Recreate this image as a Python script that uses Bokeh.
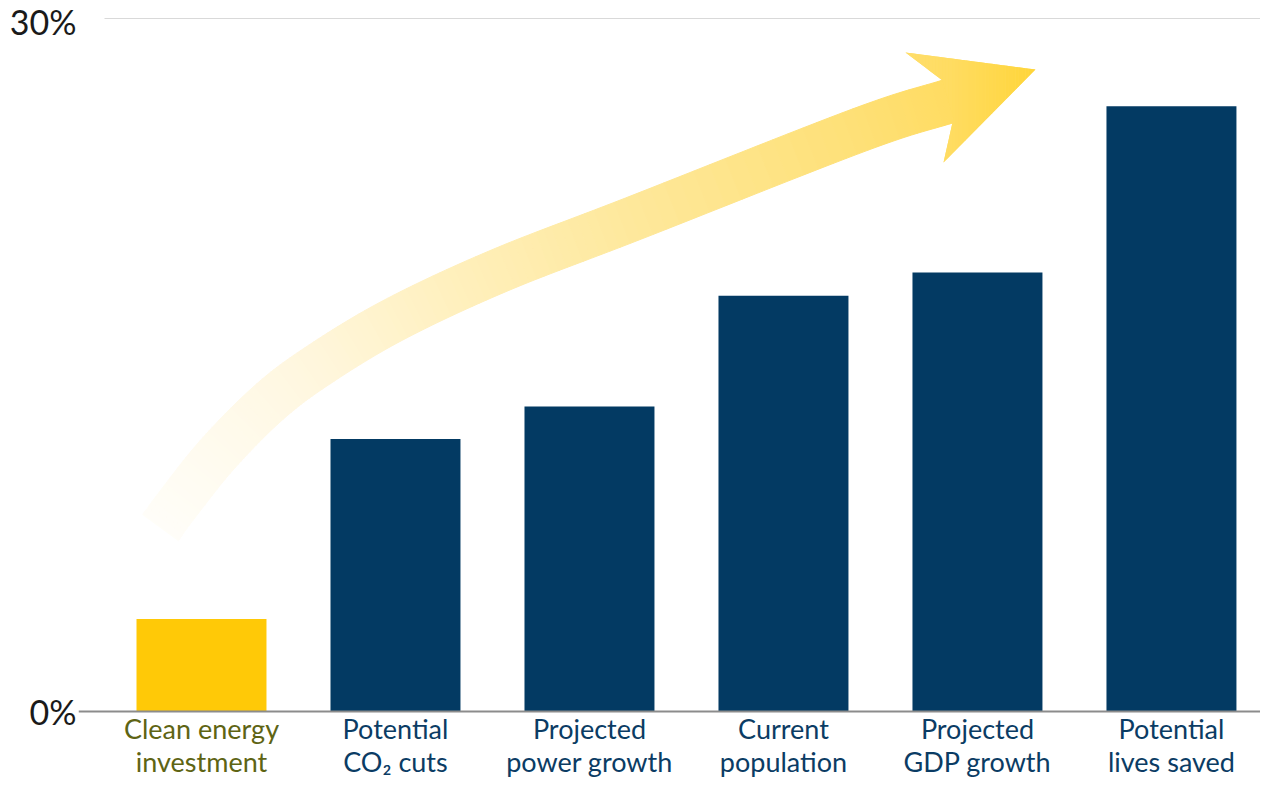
import numpy as np
from bokeh.plotting import figure
from bokeh.models import FixedTicker, PrintfTickFormatter, Range1d, Span
from bokeh.core.properties import value
from bokeh.embed import file_html
from bokeh.resources import INLINE

# ---------------- data ----------------
categories = ["Clean energy\ninvestment", "Potential\nCO\u2082 cuts", "Projected\npower growth",
              "Current\npopulation", "Projected\nGDP growth", "Potential\nlives saved"]
values = [4.0, 11.8, 13.2, 18.0, 19.0, 26.2]
bar_colors = ["#FFC907", "#033A63", "#033A63", "#033A63", "#033A63", "#033A63"]
label_colors = ["#5E6414", "#0B3C64", "#0B3C64", "#0B3C64", "#0B3C64", "#0B3C64"]
y_ticks = [0, 30]

# ---------------- layout ----------------
W, H = 1260, 780
BORDER_L = 78
X0, X1 = -0.634, 5.459
Y0, Y1 = -2.987, 30.779
PXX = (W - BORDER_L) / (X1 - X0)
PXY = H / (Y1 - Y0)

p = figure(width=W, height=H, output_backend="svg", toolbar_location=None,
           x_range=Range1d(X0, X1), y_range=Range1d(Y0, Y1),
           x_axis_location=None, min_border_left=BORDER_L, min_border_right=0,
           min_border_top=0, min_border_bottom=0)
p.outline_line_color = None
p.xgrid.visible = False
p.ygrid.visible = False
p.background_fill_color = "white"
p.border_fill_color = "white"

ax = p.yaxis[0]
ax.ticker = FixedTicker(ticks=y_ticks)
ax.formatter = PrintfTickFormatter(format="%d%%")
ax.axis_line_color = None
ax.major_tick_line_color = None
ax.minor_tick_line_color = None
ax.major_tick_out = 0
ax.major_tick_in = 0
ax.major_label_standoff = 2
ax.major_label_text_font = "Lato"
ax.major_label_text_font_size = "34px"
ax.major_label_text_color = "#1a1a1a"

idx = list(range(len(categories)))

# top gridline at 30%
p.segment(x0=[-0.5], y0=[y_ticks[-1]], x1=[X1], y1=[y_ticks[-1]], line_color="#d9d9d9", line_width=1)

# bars
p.vbar(x=idx, top=values, bottom=0, width=0.67, fill_color=bar_colors, line_color=None)

# baseline
p.add_layout(Span(location=0, dimension="width", line_color="#8c8c8c", line_width=2))

# category labels
p.text(x=idx, y=[-0.03] * len(idx), text=categories, text_align="center", text_baseline="top",
       text_font=value("Lato"), text_font_size="27px", text_color=label_colors,
       text_line_height=1.0)

# ---------------- decorative gradient arrow ----------------
center = [(-0.211, 7.965), (-0.124, 8.961), (0.077, 11.082), (0.330, 13.247), (0.577, 14.848),
          (0.985, 16.926), (1.536, 19.091), (2.227, 21.342), (3.397, 25.195), (3.875, 26.48)]
head = [(3.820, 27.316), (3.629, 28.528), (4.299, 27.792), (3.825, 23.766), (3.876, 25.671)]
grad_x = [-0.263, 0.510, 1.284, 2.227, 3.397, 3.861, 4.304]
grad_rgb = [(255, 254, 250), (255, 247, 224), (255, 240, 190), (254, 232, 155),
            (254, 224, 118), (255, 220, 98), (255, 213, 56)]


def to_px(pt):
    return np.array([pt[0] * PXX, pt[1] * PXY])


def to_data(v):
    return (v[0] / PXX, v[1] / PXY)


def color_at(x):
    r = np.interp(x, grad_x, [c[0] for c in grad_rgb])
    g = np.interp(x, grad_x, [c[1] for c in grad_rgb])
    b = np.interp(x, grad_x, [c[2] for c in grad_rgb])
    return "#%02x%02x%02x" % (int(round(r)), int(round(g)), int(round(b)))


P = [to_px(c) for c in center]
Pext = [2 * P[0] - P[1]] + P + [2 * P[-1] - P[-2]]
samples = []
for i in range(1, len(Pext) - 2):
    p0, p1, p2, p3 = Pext[i - 1], Pext[i], Pext[i + 1], Pext[i + 2]
    for t in np.linspace(0, 1, 16, endpoint=False):
        t2, t3 = t * t, t * t * t
        pt = 0.5 * ((2 * p1) + (-p0 + p2) * t + (2 * p0 - 5 * p1 + 4 * p2 - p3) * t2
                    + (-p0 + 3 * p1 - 3 * p2 + p3) * t3)
        samples.append(pt)
samples.append(P[-1])
last_dir = P[-1] - P[-2]
last_dir = last_dir / np.linalg.norm(last_dir)
samples.append(P[-1] + last_dir * 6.0)
samples = np.array(samples)

half = 22.0
tang = np.gradient(samples, axis=0)
tang /= np.linalg.norm(tang, axis=1)[:, None]
norm = np.stack([-tang[:, 1], tang[:, 0]], axis=1)
upper = samples + norm * half
lower = samples - norm * half

xs, ys, cols = [], [], []
for i in range(len(samples) - 1):
    quad = [upper[i], upper[i + 1], lower[i + 1], lower[i]]
    d = [to_data(q) for q in quad]
    xs.append([q[0] for q in d])
    ys.append([q[1] for q in d])
    cols.append(color_at(np.mean([q[0] for q in d])))
p.patches(xs=xs, ys=ys, fill_color=cols, line_color=cols, line_width=1)


def clip_half(poly, xv, keep_greater):
    out = []
    n = len(poly)
    for i in range(n):
        a, b = poly[i], poly[(i + 1) % n]
        ina = a[0] >= xv if keep_greater else a[0] <= xv
        inb = b[0] >= xv if keep_greater else b[0] <= xv
        if ina:
            out.append(a)
        if ina != inb:
            t = (xv - a[0]) / (b[0] - a[0])
            out.append((xv, a[1] + t * (b[1] - a[1])))
    return out


hx = [h[0] for h in head]
p.patch(x=hx, y=[h[1] for h in head], fill_color=color_at(np.mean(hx)), line_color=None)
edges = np.linspace(min(hx), max(hx), 40)
hxs, hys, hcols = [], [], []
for a, b in zip(edges[:-1], edges[1:]):
    poly = clip_half(head, a, True)
    if len(poly) < 3:
        continue
    poly = clip_half(poly, b, False)
    if len(poly) < 3:
        continue
    hxs.append([q[0] for q in poly])
    hys.append([q[1] for q in poly])
    hcols.append(color_at((a + b) / 2))
p.patches(xs=hxs, ys=hys, fill_color=hcols, line_color=None)

open("out.html", "w").write(file_html(p, INLINE))
